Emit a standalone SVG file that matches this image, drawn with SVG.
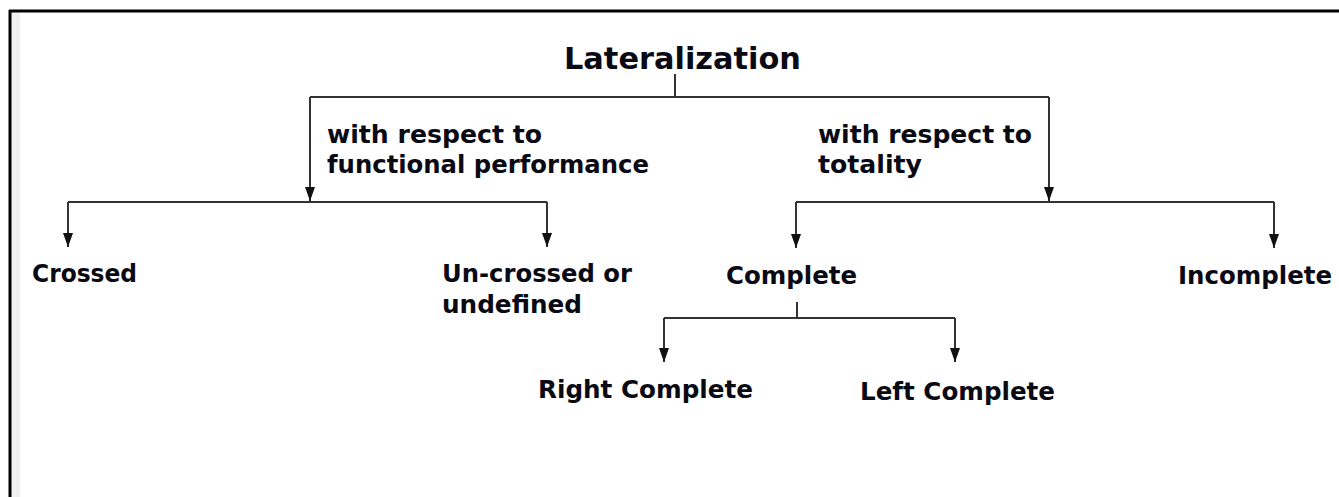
<svg xmlns="http://www.w3.org/2000/svg" width="1339" height="497" viewBox="0 0 1339 497">
<style>
.t{font-family:"DejaVu Sans","Verdana",sans-serif;font-weight:bold;fill:#0a0a14;font-size:24px}
.title{font-size:30px}
.c{fill:none;stroke:#333;stroke-width:2}
</style>
<defs>
<marker id="ah" viewBox="0 0 14 10" refX="14" refY="5" markerWidth="14" markerHeight="10" markerUnits="userSpaceOnUse" orient="auto">
<path d="M0,0 L14,5 L0,10 z" fill="#111"/>
</marker>
</defs>
<rect x="0" y="0" width="1339" height="497" fill="#fff"/>
<rect x="11" y="12" width="9" height="485" fill="#f0f0f0"/>
<path d="M9,11 H1339 M10,10 V497" fill="none" stroke="#000" stroke-width="3"/>
<g id="connectors">
<path class="c" d="M675,74 V97 M310,97 H1049"/>
<path class="c" d="M310,97 V201" marker-end="url(#ah)"/>
<path class="c" d="M1049,97 V201" marker-end="url(#ah)"/>
<path class="c" d="M68,202 H547 M796,202 H1274"/>
<path class="c" d="M68,202 V247" marker-end="url(#ah)"/>
<path class="c" d="M547,202 V247" marker-end="url(#ah)"/>
<path class="c" d="M796,202 V248" marker-end="url(#ah)"/>
<path class="c" d="M1274,202 V248" marker-end="url(#ah)"/>
<path class="c" d="M797,302 V318 M664,318 H955"/>
<path class="c" d="M664,318 V362" marker-end="url(#ah)"/>
<path class="c" d="M955,318 V362" marker-end="url(#ah)"/>
</g>
<g id="lateralization"><text class="t title" x="564" y="69" textLength="237" lengthAdjust="spacingAndGlyphs">Lateralization</text></g>
<g id="label-functional">
<text class="t" x="327" y="143" textLength="215" lengthAdjust="spacingAndGlyphs">with respect to</text>
<text class="t" x="327" y="173" textLength="322" lengthAdjust="spacingAndGlyphs">functional performance</text>
</g>
<g id="label-totality">
<text class="t" x="818" y="143" textLength="214" lengthAdjust="spacingAndGlyphs">with respect to</text>
<text class="t" x="818" y="173" textLength="104" lengthAdjust="spacingAndGlyphs">totality</text>
</g>
<g id="crossed"><text class="t" x="32" y="282" textLength="105" lengthAdjust="spacingAndGlyphs">Crossed</text></g>
<g id="uncrossed">
<text class="t" x="442" y="282" textLength="190" lengthAdjust="spacingAndGlyphs">Un-crossed or</text>
<text class="t" x="442" y="313" textLength="140" lengthAdjust="spacingAndGlyphs">undefined</text>
</g>
<g id="complete"><text class="t" x="726" y="284" textLength="131" lengthAdjust="spacingAndGlyphs">Complete</text></g>
<g id="incomplete"><text class="t" x="1178" y="284" textLength="154" lengthAdjust="spacingAndGlyphs">Incomplete</text></g>
<g id="right-complete"><text class="t" x="538" y="398" textLength="215" lengthAdjust="spacingAndGlyphs">Right Complete</text></g>
<g id="left-complete"><text class="t" x="860" y="400" textLength="195" lengthAdjust="spacingAndGlyphs">Left Complete</text></g>
</svg>
